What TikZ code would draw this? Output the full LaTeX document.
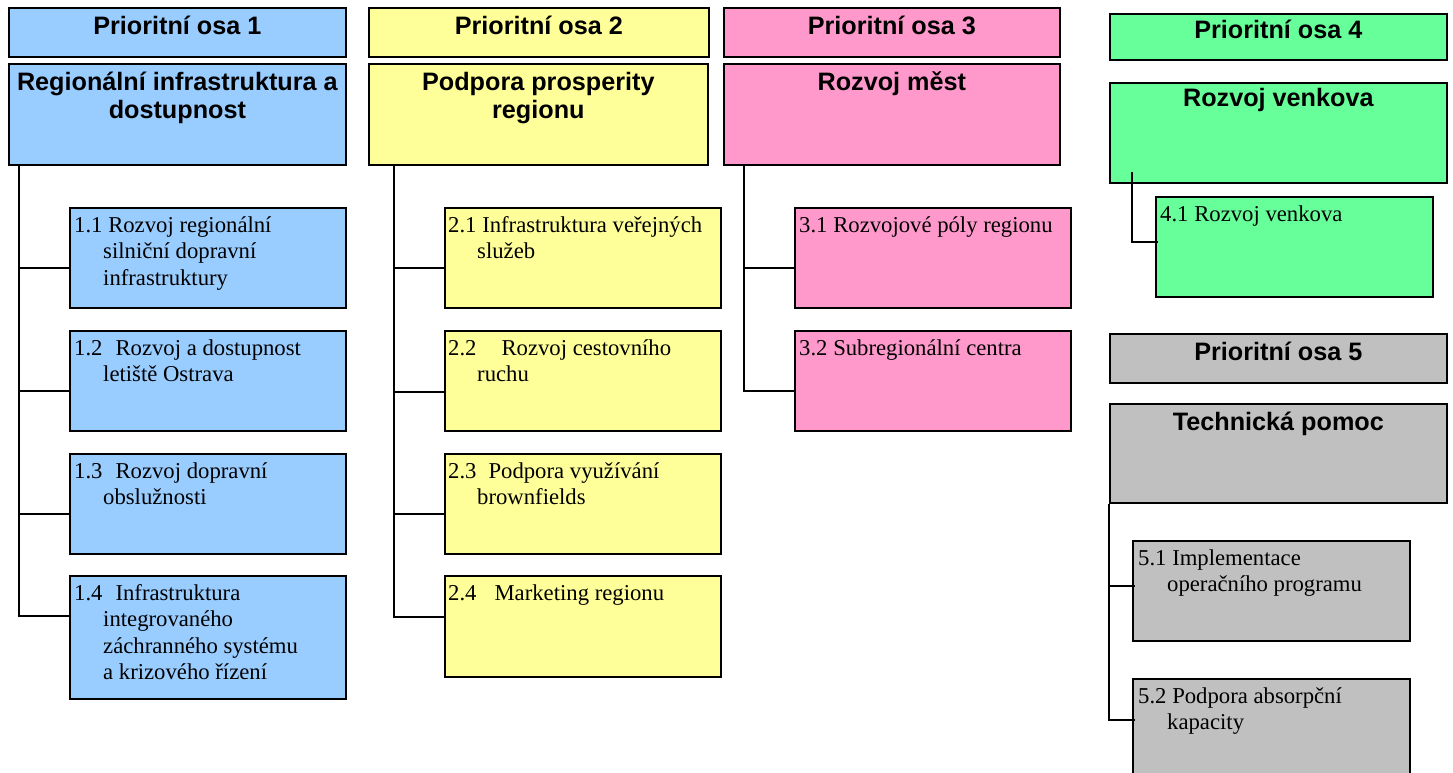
\documentclass[tikz,border=0pt]{standalone}
\usepackage{fontspec}
\setmainfont{Liberation Serif}
\setsansfont{Liberation Sans}
\usetikzlibrary{calc}
\definecolor{cblue}{HTML}{99CCFF}
\definecolor{cyel}{HTML}{FFFF99}
\definecolor{cpink}{HTML}{FF99CC}
\definecolor{cgreen}{HTML}{66FF99}
\definecolor{cgray}{HTML}{C0C0C0}
\newcommand\fl[1]{\hbox{#1}}
\newcommand\il[1]{\hbox{\hspace*{29pt}#1}}
\newcommand\cl[1]{\hbox to 334pt{\hfil #1\hfil}}
\newcommand\mybox[6]{\node[boxbase,fill=#2,minimum width={#5-#3},minimum height={#6-#4}] (#1) at (#3,#4) {};}
\begin{document}
\begin{tikzpicture}[x=1pt,y=-1pt,
  boxbase/.style={draw=black,line width=1.7pt,rectangle,inner sep=0pt,anchor=north west},
  hdrtext/.style={font=\sffamily\bfseries\fontsize{25.2}{28}\selectfont,anchor=base,inner sep=0pt},
  subtext/.style={font=\fontsize{22.7}{26.5}\selectfont,anchor=base west,inner sep=0pt},
  conn/.style={draw=black,line width=1.7pt}]
\useasboundingbox (0,0) rectangle (1453,773);
\clip (0,0) rectangle (1453,773);
% column 1
\mybox{h1}{cblue}{8}{7}{345}{56}
\mybox{t1}{cblue}{8}{63}{345}{164}
\mybox{b11}{cblue}{69}{207}{345}{307}
\mybox{b12}{cblue}{69}{330}{345}{430}
\mybox{b13}{cblue}{69}{453}{345}{553}
\mybox{b14}{cblue}{69}{575}{345}{698}
% column 2
\mybox{h2}{cyel}{368}{7}{708}{56}
\mybox{t2}{cyel}{368}{63}{707}{164}
\mybox{b21}{cyel}{444}{207}{720}{307}
\mybox{b22}{cyel}{444}{330}{720}{430}
\mybox{b23}{cyel}{444}{453}{720}{553}
\mybox{b24}{cyel}{444}{575}{720}{676}
% column 3
\mybox{h3}{cpink}{723}{7}{1059}{56}
\mybox{t3}{cpink}{723}{63}{1059}{164}
\mybox{b31}{cpink}{794}{207}{1070}{307}
\mybox{b32}{cpink}{794}{330}{1070}{430}
% column 4
\mybox{h4}{cgreen}{1109}{13}{1446}{59}
\mybox{t4}{cgreen}{1109}{82}{1446}{182}
\mybox{b41}{cgreen}{1155}{196}{1432}{296}
% column 5
\mybox{h5}{cgray}{1109}{333}{1446}{382}
\mybox{t5}{cgray}{1109}{403}{1446}{502}
\mybox{b51}{cgray}{1132}{540}{1409}{640}
\mybox{b52}{cgray}{1132}{678}{1409}{790}
% header texts
\node[hdrtext] (h1t) at ($(h1.north)+(0,28)$) {Prioritní osa 1};
\node[hdrtext] (h2t) at ($(h2.north)+(0,28)$) {Prioritní osa 2};
\node[hdrtext] (h3t) at ($(h3.north)+(0,28)$) {Prioritní osa 3};
\node[hdrtext] (h4t) at ($(h4.north)+(0,26)$) {Prioritní osa 4};
\node[hdrtext] (h5t) at ($(h5.north)+(0,27)$) {Prioritní osa 5};
% title texts
\node[hdrtext] (t1t) at ($(t1.north)+(0,28)$) {\vtop{\cl{Regionální infrastruktura a}\cl{dostupnost}}};
\node[hdrtext] (t2t) at ($(t2.north)+(0,28)$) {\vtop{\cl{Podpora prosperity}\cl{regionu}}};
\node[hdrtext] (t3t) at ($(t3.north)+(0,28)$) {Rozvoj měst};
\node[hdrtext] (t4t) at ($(t4.north)+(0,25)$) {Rozvoj venkova};
\node[hdrtext] (t5t) at ($(t5.north)+(0,27)$) {Technická pomoc};
% sub texts
\node[subtext] (s11) at ($(b11.north west)+(5,25)$) {\vtop{\fl{1.1 Rozvoj regionální}\il{silniční dopravní}\il{infrastruktury}}};
\node[subtext] (s12) at ($(b12.north west)+(5,25)$) {\vtop{\fl{1.2\hspace{13pt}Rozvoj a dostupnost}\il{letiště Ostrava}}};
\node[subtext] (s13) at ($(b13.north west)+(5,25)$) {\vtop{\fl{1.3\hspace{13pt}Rozvoj dopravní}\il{obslužnosti}}};
\node[subtext] (s14) at ($(b14.north west)+(5,25)$) {\vtop{\fl{1.4\hspace{13pt}Infrastruktura}\il{integrovaného}\il{záchranného systému}\il{a krizového řízení}}};
\node[subtext] (s21) at ($(b21.north west)+(4,25)$) {\vtop{\fl{2.1 Infrastruktura veřejných}\il{služeb}}};
\node[subtext] (s22) at ($(b22.north west)+(4,25)$) {\vtop{\fl{2.2\hspace{25pt}Rozvoj cestovního}\il{ruchu}}};
\node[subtext] (s23) at ($(b23.north west)+(4,25)$) {\vtop{\fl{2.3\hspace{12pt}Podpora využívání}\il{brownfields}}};
\node[subtext] (s24) at ($(b24.north west)+(4,25)$) {\vtop{\fl{2.4\hspace{18pt}Marketing regionu}}};
\node[subtext] (s31) at ($(b31.north west)+(5,25)$) {\vtop{\fl{3.1 Rozvojové póly regionu}}};
\node[subtext] (s32) at ($(b32.north west)+(5,25)$) {\vtop{\fl{3.2 Subregionální centra}}};
\node[subtext] (s41) at ($(b41.north west)+(5,25)$) {\vtop{\fl{4.1 Rozvoj venkova}}};
\node[subtext] (s51) at ($(b51.north west)+(6,25)$) {\vtop{\fl{5.1 Implementace}\il{operačního programu}}};
\node[subtext] (s52) at ($(b52.north west)+(6,25)$) {\vtop{\fl{5.2 Podpora absorpční}\il{kapacity}}};
% connectors column 1
\draw[conn] (t1.south -| 19,0) |- (b14.west |- 0,616);
\draw[conn] (19,268) -- (b11.west |- 0,268);
\draw[conn] (19,391) -- (b12.west |- 0,391);
\draw[conn] (19,514) -- (b13.west |- 0,514);
% connectors column 2
\draw[conn] (t2.south -| 394,0) |- (b24.west |- 0,617);
\draw[conn] (394,268) -- (b21.west |- 0,268);
\draw[conn] (394,392) -- (b22.west |- 0,392);
\draw[conn] (394,514) -- (b23.west |- 0,514);
% connectors column 3
\draw[conn] (t3.south -| 744,0) |- (b32.west |- 0,391);
\draw[conn] (744,268) -- (b31.west |- 0,268);
% connector column 4
\coordinate (k4) at (1132,172);
\draw[conn] (k4) |- ([xshift=3pt]b41.west |- 0,242);
% connectors column 5
\draw[conn] (t5.south west) |- ([xshift=3pt]b52.west |- 0,720);
\draw[conn] (1109,586) -- ([xshift=3pt]b51.west |- 0,586);
\end{tikzpicture}
\end{document}
